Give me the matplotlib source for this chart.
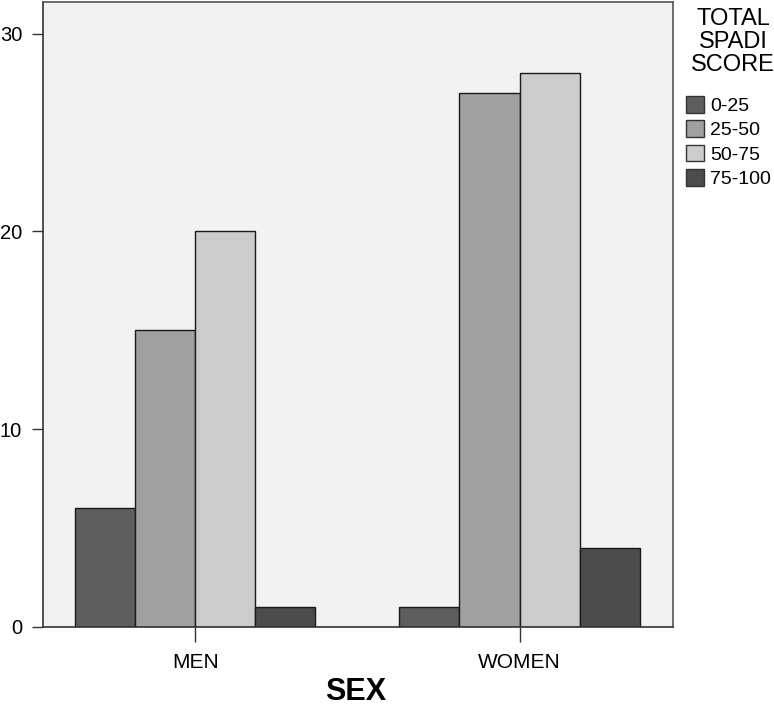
import matplotlib
matplotlib.use("Agg")
import matplotlib.pyplot as plt
import numpy as np
from matplotlib.patches import Patch

plt.rcParams['font.family'] = ['Liberation Sans', 'DejaVu Sans']

categories = ["MEN", "WOMEN"]
series_names = ["0-25", "25-50", "50-75", "75-100"]
values = {
    "0-25": [6, 1],
    "25-50": [15, 27],
    "50-75": [20, 28],
    "75-100": [1, 4],
}
colors = ["#5e5e5e", "#a0a0a0", "#cccccc", "#4c4c4c"]
yticks = [0, 10, 20, 30]

fig = plt.figure(figsize=(7.74, 7.07), dpi=100)
ax = fig.add_axes([43/774, 1-627/707, 630/774, 625/707])
ax.set_facecolor("#f2f2f2")

x = np.arange(len(categories))
w = 60/324
for i, name in enumerate(series_names):
    ax.bar(x + (i - 1.5) * w, values[name], width=w, color=colors[i],
           edgecolor="#1a1a1a", linewidth=1.0, zorder=2)

ax.set_xlim(-0.469, 1.473)
ax.set_ylim(0, 31.6)
ax.set_xticks(x)
ax.set_xticklabels(categories, fontsize=15)
ax.set_yticks(yticks)
ax.set_yticklabels([str(t) for t in yticks], fontsize=14.5)
ax.tick_params(axis='y', length=8, width=1, color="#333333", pad=7)
ax.tick_params(axis='x', length=11, width=1, color="#333333", pad=8, direction='out')
for s in ax.spines.values():
    s.set_color("#555555")
    s.set_linewidth(1.2)
ax.spines['left'].set_color("#333333")
ax.spines['bottom'].set_color("#333333")

fig.text(356/774, 1-692/707, "SEX", fontsize=22, fontweight='bold',
         ha='center', va='center')

fig.text(733/774, 1-42/707, "TOTAL\nSPADI\nSCORE", fontsize=17, ha='center',
         va='center', multialignment='center', linespacing=1.08)

handles = [Patch(facecolor=c, edgecolor="#333333", label=n) for c, n in zip(colors, series_names)]
leg = fig.legend(handles=handles, loc="upper left",
                 bbox_to_anchor=(686/774, 1-96/707), frameon=False, fontsize=14,
                 handlelength=0.95, handleheight=0.95,
                 handletextpad=0.3, labelspacing=0.27, borderaxespad=0, borderpad=0.0)

fig.savefig("out.png", dpi=100)
